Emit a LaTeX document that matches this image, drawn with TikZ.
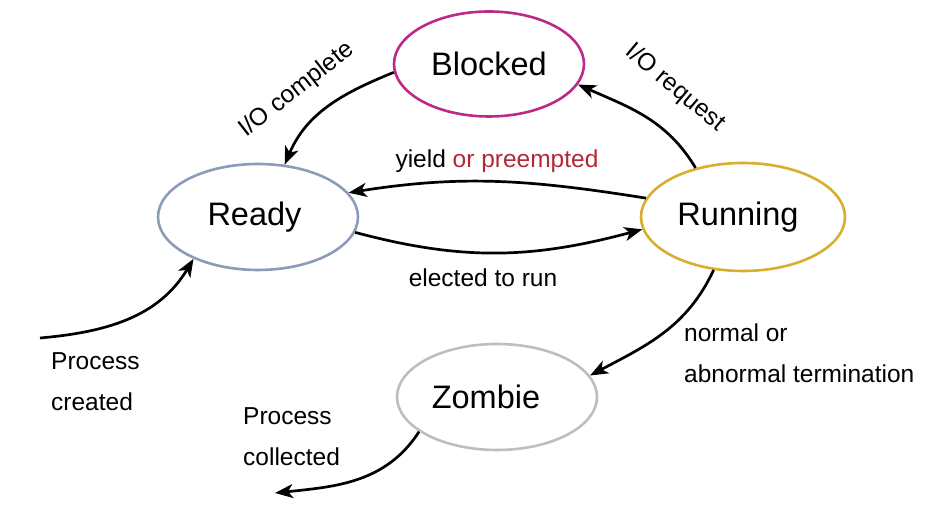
\documentclass[tikz,border=0pt]{standalone}
\usepackage{fontspec}
\setmainfont{Liberation Sans}
\usetikzlibrary{shapes.geometric,arrows.meta}
\definecolor{cblocked}{HTML}{BB2A88}
\definecolor{cready}{HTML}{8C9BB8}
\definecolor{crunning}{HTML}{D8AE2D}
\definecolor{czombie}{HTML}{BEBEBE}
\definecolor{cred}{HTML}{B22838}
\begin{document}
\begin{tikzpicture}[x=1pt,y=1pt,
  state/.style={ellipse,draw,line width=2.6pt,inner sep=0pt,fill=white,
    font=\fontsize{32.5}{38}\selectfont},
  lbl/.style={inner sep=0pt,font=\fontsize{24.5}{29}\selectfont},
  trans/.style={line width=2.7pt,-{Stealth[length=18pt,width=14pt,inset=5pt]}}]
\useasboundingbox (0,0) rectangle (940,518);
\node[state,draw=cblocked,minimum width=190pt,minimum height=105pt] (blk) at (489,454) {Blocked};
\node[state,draw=cready,minimum width=200pt,minimum height=106pt] (rdy) at (258,301) {\kern-7pt Ready};
\node[state,draw=crunning,minimum width=204pt,minimum height=108pt] (run) at (743,301) {\kern-10pt Running};
\node[state,draw=czombie,minimum width=200pt,minimum height=106pt] (zmb) at (497,121) {\kern-22pt Zombie};
\coordinate (src) at (40,180);
\coordinate (snk) at (275,25);
% transitions
\draw[trans] (blk.185) to[out=202,in=67] (rdy.63);
\draw[trans] (run.134) to[out=121,in=336] (blk.347);
\draw[trans] (run.169) to[out=171,in=9] (rdy.15);
\draw[trans] (rdy.-9) to[out=-15,in=195] (run.187);
\draw[trans] (src) to[out=5,in=239] (rdy.213);
\draw[trans] (run.241) to[out=245,in=28] (zmb.13);
\draw[trans] (zmb.204) to[out=237,in=6] (snk);
% labels
\node[lbl,rotate=38] (lcomp) at (297,428) {I/O complete};
\node[lbl,rotate=-40] (lreq) at (675,430) {I/O request};
\node[lbl,anchor=base] (lyield) at (497,350) {yield \textcolor{cred}{or preempted}};
\node[lbl,anchor=base] (lelect) at (483,231) {elected to run};
\node[lbl,anchor=base west] (lnorm1) at (684,176) {normal or};
\node[lbl,anchor=base west] (lnorm2) at (684,135) {abnormal termination};
\node[lbl,anchor=base west] (lcr1) at (51,148) {Process};
\node[lbl,anchor=base west] (lcr2) at (51,107) {created};
\node[lbl,anchor=base west] (lco1) at (243,93) {Process};
\node[lbl,anchor=base west] (lco2) at (243,52) {collected};
\end{tikzpicture}
\end{document}
